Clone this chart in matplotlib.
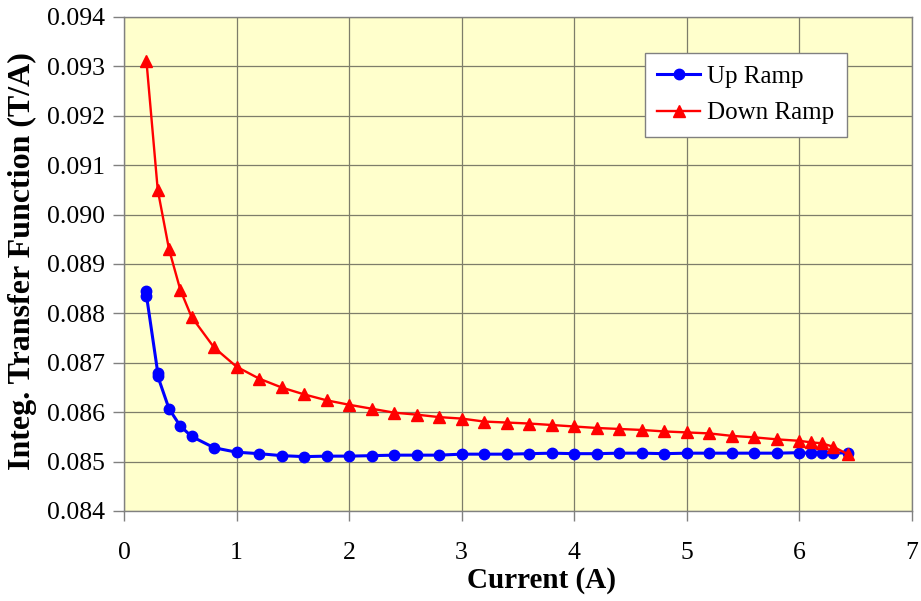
import matplotlib
matplotlib.use("Agg")
import matplotlib.pyplot as plt
import numpy as np

# Up ramp (blue circles)
up_current = [0.2, 0.2, 0.3, 0.3, 0.4, 0.5, 0.6, 0.8, 1.0, 1.2, 1.4, 1.6, 1.8, 2.0,
              2.2, 2.4, 2.6, 2.8, 3.0, 3.2, 3.4, 3.6, 3.8, 4.0, 4.2, 4.4, 4.6, 4.8,
              5.0, 5.2, 5.4, 5.6, 5.8, 6.0, 6.1, 6.2, 6.3, 6.43]
up_itf = [0.08846, 0.08836, 0.08680, 0.08673, 0.08607, 0.08572, 0.08551, 0.08528,
          0.08519, 0.08516, 0.08512, 0.08510, 0.08511, 0.08511, 0.08512, 0.08513,
          0.08513, 0.08513, 0.08515, 0.08515, 0.08515, 0.08516, 0.08517, 0.08516,
          0.08516, 0.08517, 0.08517, 0.08516, 0.08517, 0.08517, 0.08517, 0.08517,
          0.08517, 0.08518, 0.08517, 0.08517, 0.08517, 0.08518]

# Down ramp (red triangles)
down_current = [0.2, 0.3, 0.4, 0.5, 0.6, 0.8, 1.0, 1.2, 1.4, 1.6, 1.8, 2.0, 2.2,
                2.4, 2.6, 2.8, 3.0, 3.2, 3.4, 3.6, 3.8, 4.0, 4.2, 4.4, 4.6, 4.8,
                5.0, 5.2, 5.4, 5.6, 5.8, 6.0, 6.1, 6.2, 6.3, 6.43]
down_itf = [0.09310, 0.09050, 0.08930, 0.08848, 0.08793, 0.08731, 0.08692, 0.08668,
            0.08650, 0.08636, 0.08624, 0.08615, 0.08607, 0.08599, 0.08595, 0.08590,
            0.08587, 0.08581, 0.08579, 0.08577, 0.08574, 0.08571, 0.08568, 0.08566,
            0.08564, 0.08561, 0.08559, 0.08557, 0.08552, 0.08549, 0.08545, 0.08542,
            0.08539, 0.08537, 0.08530, 0.08515]

x_ticks = [0, 1, 2, 3, 4, 5, 6, 7]
y_ticks = [0.084, 0.085, 0.086, 0.087, 0.088, 0.089, 0.090, 0.091, 0.092, 0.093, 0.094]

plt.rcParams["font.family"] = ["Liberation Serif", "DejaVu Serif"]

fig = plt.figure(figsize=(9.21, 6.01), dpi=100)
ax = fig.add_axes([0.1346, 0.1498, 0.8556, 0.822])
ax.set_facecolor("#FFFFCC")

ax.plot(up_current, up_itf, color="#0000FF", lw=2.2, marker="o", ms=7.5,
        label="Up Ramp", zorder=3)
ax.plot(down_current, down_itf, color="#FF0000", lw=1.7, marker="^", ms=8.5,
        label="Down Ramp", zorder=4)

ax.set_xlim(0, 7)
ax.set_ylim(0.084, 0.094)
ax.set_xticks(x_ticks)
ax.set_yticks(y_ticks)
ax.set_yticklabels([f"{v:.3f}" for v in y_ticks])
ax.grid(True, color="#7d7d6a", lw=0.9)
ax.set_axisbelow(True)
for sp in ax.spines.values():
    sp.set_color("#808080")
    sp.set_linewidth(1.0)

ax.tick_params(axis="x", direction="out", length=7, width=1, color="#808080",
               labelsize=18.5, pad=15)
ax.tick_params(axis="y", direction="out", length=8, width=1, color="#808080",
               labelsize=18.5, pad=6)

ax.set_xlabel("Current (A)", fontsize=21, fontweight="bold")
ax.set_ylabel("Integ. Transfer Function (T/A)", fontsize=23, fontweight="bold")
ax.xaxis.set_label_coords(0.530, -0.114)
ax.yaxis.set_label_coords(-0.110, 0.505)

leg = ax.legend(loc="upper left", bbox_to_anchor=(0.661, 0.927), fontsize=18,
                frameon=True, fancybox=False, framealpha=1, edgecolor="#808080",
                handlelength=1.7, handletextpad=0.3, labelspacing=0.55,
                borderpad=0.5, borderaxespad=0)
leg.get_frame().set_linewidth(1.0)

fig.savefig("out.png", dpi=100, facecolor="white")
